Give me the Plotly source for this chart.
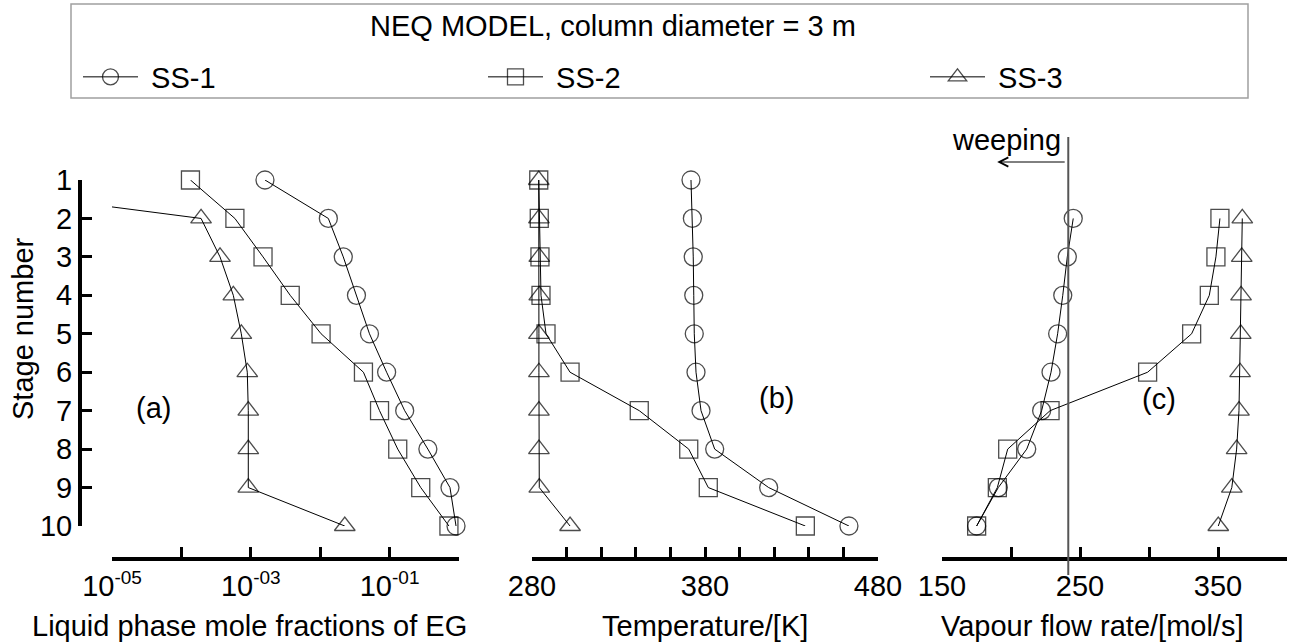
import plotly.graph_objects as go

W, H = 1291, 642

# ---------------- data ----------------
stages = [1, 2, 3, 4, 5, 6, 7, 8, 9, 10]
series_names = ["SS-1", "SS-2", "SS-3"]

# (a) liquid phase mole fractions of EG
eg_ss1 = [1.6e-3, 0.0131, 0.0215, 0.0333, 0.0513, 0.0906, 0.165, 0.356, 0.741, 0.906]
eg_ss2 = [1.35e-4, 5.9e-4, 1.5e-3, 3.7e-3, 0.0103, 0.042, 0.0716, 0.131, 0.281, 0.716]
eg_ss3 = [1e-8, 1.92e-4, 3.6e-4, 5.6e-4, 7.3e-4, 8.9e-4, 9.2e-4, 9.2e-4, 9.2e-4, 0.0226]

# (b) temperature [K]
t_ss1 = [371.9, 372.7, 373.2, 373.5, 373.8, 374.8, 377.7, 385.6, 416.8, 463.2]
t_ss2 = [283.9, 284.2, 284.6, 285.2, 288.1, 302.0, 342.0, 370.6, 381.9, 438.0]
t_ss3 = [283.9, 284.0, 284.2, 284.2, 284.0, 284.0, 284.0, 284.0, 284.2, 302.0]

# (c) vapour flow rate [mol/s] (no vapour on stage 1)
v_ss1 = [None, 245.1, 240.8, 237.5, 233.8, 229.0, 222.2, 211.4, 190.8, 175.1]
v_ss2 = [None, 351.4, 348.5, 343.7, 330.9, 299.0, 228.3, 197.6, 190.1, 175.1]
v_ss3 = [None, 367.6, 367.2, 366.7, 366.5, 366.0, 365.2, 363.5, 360.0, 350.2]

weeping_flow = 241.5
weeping_arrow_end = 190.0

a_tickvals = [1e-5, 1e-3, 1e-1]
a_exponents = ["-05", "-03", "-01"]
a_minorvals = [1e-4, 1e-2, 1]
b_tickvals = [280, 380, 480]
c_tickvals = [150, 250, 350]

# ---------------- helpers ----------------
def px(x):
    return x / W

def py(y):
    return 1 - y / H

FONT = "Liberation Sans, Arial, sans-serif"
FS = 29
symbols = ["circle-open", "square-open", "triangle-up-open"]
legends = ["legend", "legend2", "legend3"]

a_ticktext = ["10<sup><span style='font-size:19px'>%s</span></sup>" % e for e in a_exponents]

fig = go.Figure()

panels = [
    ("x", "y", [eg_ss1, eg_ss2, eg_ss3]),
    ("x2", "y2", [t_ss1, t_ss2, t_ss3]),
    ("x3", "y3", [v_ss1, v_ss2, v_ss3]),
]

for pi, (xa, ya, data) in enumerate(panels):
    for si, vals in enumerate(data):
        sizes = [18] * len(stages)
        if pi == 0 and si == 2:
            sizes[0] = 0  # stage-1 point lies far off-scale
        fig.add_trace(go.Scatter(
            x=vals, y=stages, mode="lines+markers",
            name="\u00a0" + series_names[si],
            xaxis=xa, yaxis=ya,
            line=dict(color="black", width=1),
            marker=dict(symbol=symbols[si], size=sizes, color="black",
                        line=dict(width=1.3, color="black")),
            cliponaxis=False,
            showlegend=(pi == 0),
            legend=legends[si],
        ))

ydom = [py(526), py(180)]
xpos = py(559)
minor_style = dict(ticks="inside", ticklen=10, tickwidth=3, tickcolor="black")
axis_common = dict(showgrid=False, zeroline=False, showline=True, linecolor="black",
                   linewidth=4, ticks="inside", ticklen=10, tickwidth=3, tickcolor="black",
                   tickfont=dict(family=FONT, size=FS, color="black"), anchor="free",
                   position=xpos, automargin=False)

fig.update_layout(
    width=W, height=H, autosize=False,
    margin=dict(l=0, r=0, t=0, b=0, pad=0, autoexpand=False),
    paper_bgcolor="white", plot_bgcolor="white",
    font=dict(family=FONT, size=FS, color="black"),
    xaxis=dict(domain=[px(112), px(459)], type="log", range=[-5, 0],
               tickmode="array", tickvals=a_tickvals, ticktext=a_ticktext,
               minor=dict(tickmode="array", tickvals=a_minorvals, **minor_style),
               **axis_common),
    xaxis2=dict(domain=[px(532), px(878)], range=[280, 480],
                tickmode="array", tickvals=b_tickvals,
                minor=dict(dtick=20, tick0=280, **minor_style),
                **axis_common),
    xaxis3=dict(domain=[px(942), px(1287)], range=[150, 400],
                tickmode="array", tickvals=c_tickvals,
                minor=dict(dtick=50, tick0=150, **minor_style),
                **axis_common),
    yaxis=dict(domain=ydom, range=[10, 1], anchor="free", position=px(80),
               tickmode="array", tickvals=stages, automargin=False,
               showgrid=False, zeroline=False, showline=True, linecolor="black",
               linewidth=4, ticks="inside", ticklen=10, tickwidth=3, tickcolor="black",
               tickfont=dict(family=FONT, size=FS, color="black")),
    yaxis2=dict(domain=ydom, range=[10, 1], visible=False, anchor="x2"),
    yaxis3=dict(domain=ydom, range=[10, 1], visible=False, anchor="x3"),
    showlegend=True,
)

leg_common = dict(orientation="h", yanchor="middle", xanchor="left",
                  bgcolor="rgba(0,0,0,0)", borderwidth=0,
                  font=dict(family=FONT, size=FS, color="black"), itemwidth=55)
fig.update_layout(
    legend=dict(x=px(78), y=py(77), **leg_common),
    legend2=dict(x=px(483), y=py(77), **leg_common),
    legend3=dict(x=px(925), y=py(77), **leg_common),
)

# legend frame
fig.add_shape(type="rect", xref="paper", yref="paper",
              x0=px(71), x1=px(1248), y0=py(98), y1=py(4),
              line=dict(color="#a0a0a0", width=1.5), fillcolor="rgba(0,0,0,0)")

# weeping line
fig.add_shape(type="line", xref="x3", yref="paper",
              x0=weeping_flow, x1=weeping_flow, y0=py(575), y1=py(137),
              line=dict(color="#555555", width=2))

ann = []
ann.append(dict(text="NEQ MODEL, column diameter = 3 m", xref="paper", yref="paper",
                x=px(613), y=py(26), showarrow=False, xanchor="center", yanchor="middle"))
ann.append(dict(text="Stage number", xref="paper", yref="paper", x=px(23), y=py(329),
                textangle=-90, showarrow=False, xanchor="center", yanchor="middle"))
ann.append(dict(text="Liquid phase mole fractions of EG", xref="paper", yref="paper",
                x=px(249), y=py(626), showarrow=False, xanchor="center", yanchor="middle"))
ann.append(dict(text="Temperature/[K]", xref="paper", yref="paper",
                x=px(705), y=py(626), showarrow=False, xanchor="center", yanchor="middle"))
ann.append(dict(text="Vapour flow rate/[mol/s]", xref="paper", yref="paper",
                x=px(1092), y=py(626), showarrow=False, xanchor="center", yanchor="middle"))
ann.append(dict(text="(a)", xref="x", yref="y", x=-4.4, y=6.93, showarrow=False))
ann.append(dict(text="(b)", xref="x2", yref="y2", x=421.6, y=6.67, showarrow=False))
ann.append(dict(text="(c)", xref="x3", yref="y3", x=307, y=6.7, showarrow=False))
ann.append(dict(text="weeping", xref="x3", yref="paper", x=196.4, y=py(140),
                showarrow=False, xanchor="center", yanchor="middle"))
ann.append(dict(text="", xref="x3", yref="paper", x=weeping_arrow_end, y=py(162),
                axref="x3", ax=weeping_flow - 1.5, ayref="pixel", ay=0,
                showarrow=True, arrowhead=5, arrowsize=1.8, arrowwidth=1, arrowcolor="black"))
fig.update_layout(annotations=ann)

fig.write_html("out.html", config={"displayModeBar": False},
               post_script="document.body.style.margin='0px';")
